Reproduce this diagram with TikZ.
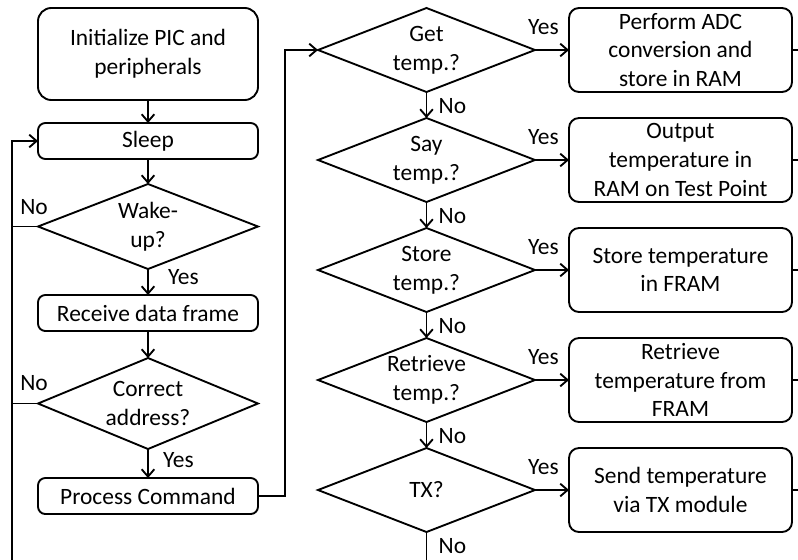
\documentclass[tikz,border=0pt]{standalone}
\usepackage{fontspec}
\setmainfont{Carlito}
\usetikzlibrary{positioning, arrows.meta, shapes.geometric}

\begin{document}
\begin{tikzpicture}[
		x=0.03cm, y=-0.03cm,
		font=\fontsize{20}{24.5}\selectfont,
		box/.style={
			rectangle,
			rounded corners=0.22cm,
			draw,
			line width=1.6pt,
			align=center,
			inner sep=0pt,
			outer sep=0pt,
			minimum width=6.6cm,
			minimum height=1.08cm
		},
		tallbox/.style={
			box,
			rounded corners=0.4cm,
			minimum height=2.76cm
		},
		actbox/.style={
			box,
			rounded corners=0.3cm,
			minimum width=6.69cm,
			minimum height=2.52cm
		},
		decision/.style={
			diamond,
			draw,
			line width=1.6pt,
			inner sep=0pt,
			outer sep=0pt,
			minimum width=6.51cm,
			minimum height=2.52cm
		},
		tag/.style={
			inner sep=0pt,
			text depth=0pt
		},
		arrow/.style={
			-{Straight Barb[length=2.2mm, width=3.8mm]},
			line width=1.6pt
		},
		line/.style={
			line width=1.6pt
		}
		]
		
		\useasboundingbox (0,0) rectangle (798,560);
		
		% left column
		\node[tallbox] (init) at (148,54) {Initialize PIC and\\peripherals};
		
		\node[box, below=0.69cm of init] (sleep) {Sleep};
		
		\node[decision, minimum width=6.6cm, minimum height=2.55cm, below=0.75cm of sleep,
		label={[align=center]center:Wake-\\up?}] (wake) {};
		
		\node[box, below=0.78cm of wake] (recv) {Receive data frame};
		
		\node[decision, minimum width=6.6cm, minimum height=2.73cm, below=0.81cm of recv,
		label={[align=center]center:Correct\\address?}] (corr) {};
		
		\node[box, below=0.87cm of corr] (proc) {Process Command};
		
		% command decisions
		\node[decision, label={[align=center]center:Get\\temp.?}] (get) at (426.5,50) {};
		
		\node[decision, below=0.78cm of get,
		label={[align=center]center:Say\\temp.?}] (say) {};
		
		\node[decision, below=0.78cm of say,
		label={[align=center]center:Store\\temp.?}] (store) {};
		
		\node[decision, below=0.78cm of store,
		label={[align=center]center:Retrieve\\temp.?}] (retr) {};
		
		\node[decision, below=0.78cm of retr,
		label={[align=center]center:TX?}] (tx) {};
		
		% actions
		\node[actbox, right=1.02cm of get] (adc) {Perform ADC\\conversion and\\store in RAM};
		\node[actbox, right=1.02cm of say] (out) {Output\\temperature in\\RAM on Test Point};
		\node[actbox, right=1.02cm of store] (fram) {Store temperature\\in FRAM};
		\node[actbox, right=1.02cm of retr] (fetch) {Retrieve\\temperature from\\FRAM};
		\node[actbox, right=1.02cm of tx] (send) {Send temperature\\via TX module};
		
		% branch labels
		\node[tag, above left=0.36cm and -0.3cm of wake.west] (wakeno) {No};
		\node[tag, below right=0cm and 0.6cm of wake.south] (wakeyes) {Yes};
		\node[tag, above left=0.38cm and -0.3cm of corr.west] (corrno) {No};
		\node[tag, below right=0.09cm and 0.45cm of corr.south] (corryes) {Yes};
		
		\foreach \q in {get, say, store, retr, tx} {
			\node[tag, below right=0.18cm and 0.36cm of \q.south] (\q no) {No};
			\node[tag, above right=0.45cm and -0.21cm of \q.east] (\q yes) {Yes};
		}
		
		% loose ends
		\coordinate (loopbot) at (12,575);
		\coordinate (jog) at (285,0);
		\coordinate (txend) at (426.5,575);
		\coordinate (rim) at (812,0);
		
		\draw[arrow] (init) -- (sleep);
		\draw[arrow] (sleep) -- (wake);
		\draw[arrow] (wake) -- (recv);
		\draw[arrow] (recv) -- (corr);
		\draw[arrow] (corr) -- (proc);
		
		\draw[arrow] (loopbot) |- (sleep.west);
		\draw[line] (wake.west) -- (wake.west -| loopbot);
		\draw[line] (corr.west) -- (corr.west -| loopbot);
		
		\draw[arrow] (proc.east) -- (proc.east -| jog) |- (get.west);
		
		\draw[arrow] (get) -- (say);
		\draw[arrow] (say) -- (store);
		\draw[arrow] (store) -- (retr);
		\draw[arrow] (retr) -- (tx);
		\draw[line] (tx.south) -- (txend);
		
		\foreach \q/\a in {get/adc, say/out, store/fram, retr/fetch, tx/send} {
			\draw[arrow] (\q) -- (\a);
			\draw[line] (\a.east) -- (\a.east -| rim);
		}
		
	\end{tikzpicture}
\end{document}
